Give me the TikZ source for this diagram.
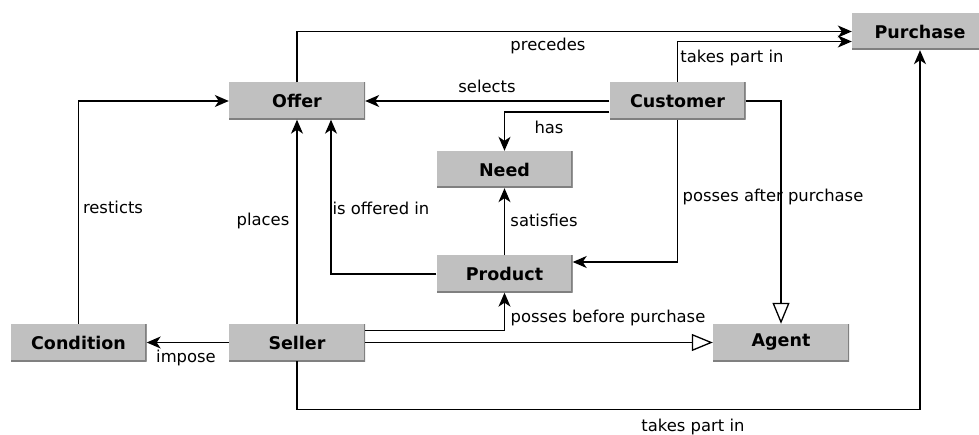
\documentclass[tikz,border=0pt]{standalone}
\usepackage{fontspec}
\setmainfont{DejaVu Sans}
\usepackage{xcolor}
\usetikzlibrary{calc,arrows.meta}
\definecolor{boxGrey}{RGB}{192,192,192}
\definecolor{edgeGrey}{RGB}{128,128,128}

\begin{document}
\begin{tikzpicture}[x=1pt,y=-1pt,
  concept/.style={fill=boxGrey,minimum width=136pt,minimum height=37pt,inner sep=0pt,
    font=\bfseries\fontsize{17.5}{20}\selectfont,
    path picture={\draw[edgeGrey,line width=3pt] (path picture bounding box.north east) -- (path picture bounding box.south east) -- (path picture bounding box.south west);}},
  lbl/.style={font=\fontsize{16.4}{19}\selectfont,inner sep=0pt},
  link/.style={line width=1.3pt,-{Stealth[length=14pt,width=12pt,inset=4pt]}},
  isa/.style={line width=1.3pt,-{Triangle[open,length=21pt,width=17pt,fill=white]}}]
\path[use as bounding box] (0,0) rectangle (979,435);
\clip (0,0) rectangle (979,435);

% concepts
\node[concept] (purchase) at (920,31.5) {Purchase};
\node[concept] (offer) at (297,101) {Offer};
\node[concept] (customer) at (677.5,101) {Customer};
\node[concept] (need) at (504.5,169.5) {Need};
\node[concept] (product) at (504.5,274) {Product};
\node[concept] (condition) at (78.5,342.5) {Condition};
\node[concept] (seller) at (297,342.5) {Seller};
\node[concept] (agent) at (781,342.5) {Agent};

% relations
\draw[link] (offer.north) |- (purchase.west);
\draw[link] (customer.north) |- ($(purchase.west)+(0,10)$);
\draw[link] (customer.west) -- (offer.east);
\draw[link] ($(customer.west)+(0,11)$) -| (need.north);
\draw[link] (customer.south) |- ($(product.east)+(0,-12)$);
\draw[isa] (customer.east) -| (agent.north);
\draw[link] (product.north) -- (need.south);
\draw[link] (product.west) -| ($(offer.south)+(34,0)$);
\draw[link] (seller.north) -- (offer.south);
\draw[link] ($(seller.east)+(0,-12)$) -| (product.south);
\draw[isa] (seller.east) -- (agent.west);
\draw[link] (seller.west) -- (condition.east);
\draw[link] (condition.north) |- (offer.west);
\draw[link] (seller.south) -- ++(0,48) -| (purchase.south);

% labels
\node[lbl] (lPrecedes) at (548,46) {precedes};
\node[lbl] (lTakesTop) at (732,58) {takes part in};
\node[lbl] (lSelects) at (487,86) {selects};
\node[lbl] (lHas) at (549,127) {has};
\node[lbl] (lRestricts) at (113,207) {resticts};
\node[lbl] (lPlaces) at (263,221) {places};
\node[lbl] (lOffered) at (381,208) {is offered in};
\node[lbl] (lSatisfies) at (544,220) {satisfies};
\node[lbl] (lAfter) at (773,197) {posses after purchase};
\node[lbl] (lBefore) at (608,318) {posses before purchase};
\node[lbl] (lImpose) at (186,358) {impose};
\node[lbl] (lTakesBottom) at (693,427) {takes part in};
\end{tikzpicture}
\end{document}
